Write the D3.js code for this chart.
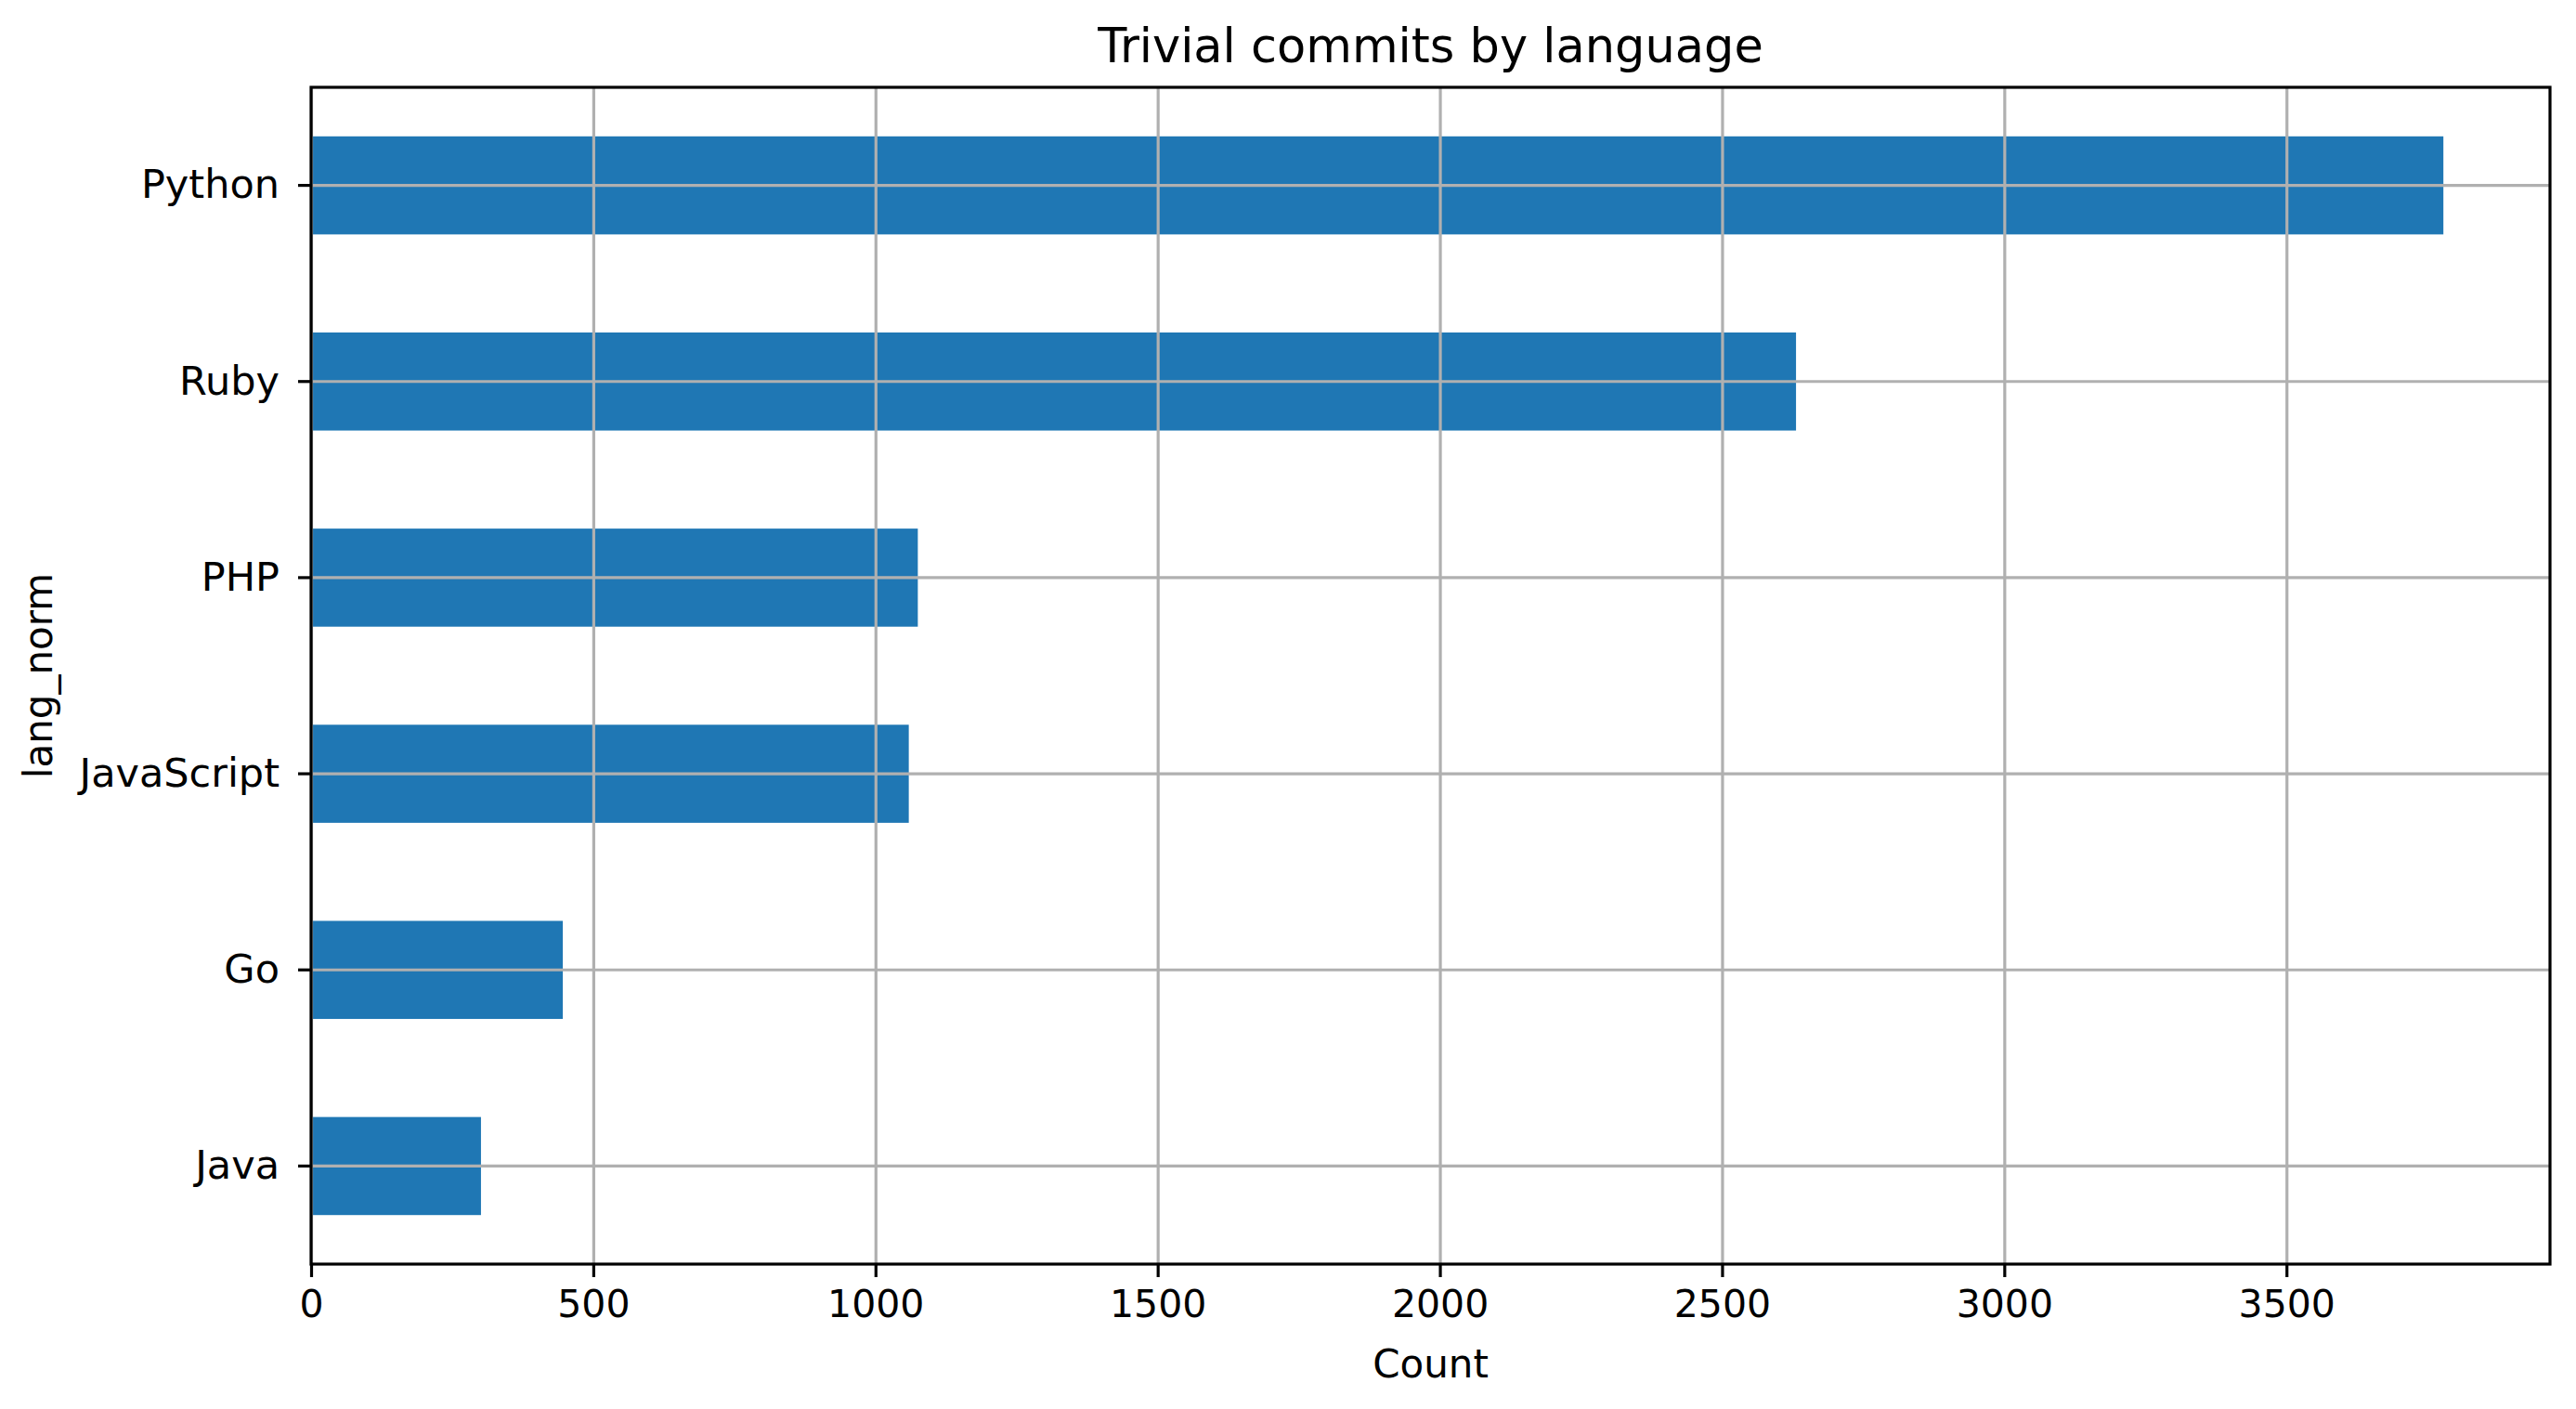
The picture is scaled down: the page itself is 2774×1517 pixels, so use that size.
<!DOCTYPE html>
<html>
<head>
<meta charset="utf-8">
<script src="https://cdn.jsdelivr.net/npm/d3@7"></script>
<style>
  html, body { margin: 0; padding: 0; background: #ffffff; }
  svg { display: block; }
  text { font-family: "DejaVu Sans", sans-serif; fill: #000; }
</style>
</head>
<body>
<script>
// ---- data ----
const categories = ["Python", "Ruby", "PHP", "JavaScript", "Go", "Java"];
const counts = [3778, 2631, 1075, 1059, 446, 301];
const xTicks = [0, 500, 1000, 1500, 2000, 2500, 3000, 3500];
const titleText = "Trivial commits by language";
const xLabel = "Count";
const yLabel = "lang_norm";

// ---- layout ----
const W = 2774, H = 1517;
const pLeft = 335, pRight = 2746, pTop = 94, pBottom = 1361;
const lw = 3.2;
const tickLen = 14;

const svg = d3.select("body").append("svg")
  .attr("width", W).attr("height", H)
  .attr("viewBox", `0 0 ${W} ${H}`);

const x = d3.scaleLinear()
  .domain([0, d3.max(counts) * 1.05])
  .range([pLeft, pRight]);

const y = d3.scaleBand()
  .domain(categories)
  .range([pTop, pBottom])
  .paddingInner(0.5)
  .paddingOuter(0.25);

const data = categories.map((c, i) => ({ cat: c, value: counts[i] }));

// bars
svg.append("g").selectAll("rect").data(data).join("rect")
  .attr("x", x(0))
  .attr("y", d => y(d.cat))
  .attr("width", d => x(d.value) - x(0))
  .attr("height", y.bandwidth())
  .attr("fill", "#1f77b4");

// grid (drawn above bars)
const grid = svg.append("g");
grid.append("g").attr("transform", `translate(0,${pBottom})`)
  .call(d3.axisBottom(x).tickValues(xTicks).tickSize(-(pBottom - pTop)).tickFormat(""))
  .call(g => g.select(".domain").remove())
  .call(g => g.selectAll("line").attr("stroke", "#b0b0b0").attr("stroke-width", lw));
grid.append("g").attr("transform", `translate(${pLeft},0)`)
  .call(d3.axisLeft(y).tickSize(-(pRight - pLeft)).tickFormat(""))
  .call(g => g.select(".domain").remove())
  .call(g => g.selectAll("line").attr("stroke", "#b0b0b0").attr("stroke-width", lw));

// x axis
const xAxis = svg.append("g").attr("transform", `translate(0,${pBottom})`)
  .call(d3.axisBottom(x).tickValues(xTicks).tickSize(tickLen).tickSizeOuter(0).tickPadding(14).tickFormat(d3.format("d")));
xAxis.select(".domain").remove();
xAxis.selectAll("line").attr("stroke", "#000").attr("stroke-width", lw);
xAxis.selectAll("text").attr("font-size", 41).attr("font-family", "DejaVu Sans").attr("fill", "#000");

// y axis
const yAxis = svg.append("g").attr("transform", `translate(${pLeft},0)`)
  .call(d3.axisLeft(y).tickSize(tickLen).tickSizeOuter(0).tickPadding(20));
yAxis.select(".domain").remove();
yAxis.selectAll("line").attr("stroke", "#000").attr("stroke-width", lw);
yAxis.selectAll("text").attr("font-size", 43).attr("font-family", "DejaVu Sans").attr("fill", "#000");

// frame
svg.append("rect")
  .attr("x", pLeft).attr("y", pTop)
  .attr("width", pRight - pLeft).attr("height", pBottom - pTop)
  .attr("fill", "none").attr("stroke", "#000").attr("stroke-width", lw);

// title
svg.append("text")
  .attr("x", (pLeft + pRight) / 2).attr("y", 67)
  .attr("text-anchor", "middle")
  .attr("font-size", 51)
  .text(titleText);

// x label
svg.append("text")
  .attr("x", (pLeft + pRight) / 2).attr("y", 1483)
  .attr("text-anchor", "middle")
  .attr("font-size", 42)
  .text(xLabel);

// y label
svg.append("text")
  .attr("transform", `translate(56,${(pTop + pBottom) / 2}) rotate(-90)`)
  .attr("text-anchor", "middle")
  .attr("font-size", 42)
  .text(yLabel);
</script>
</body>
</html>
